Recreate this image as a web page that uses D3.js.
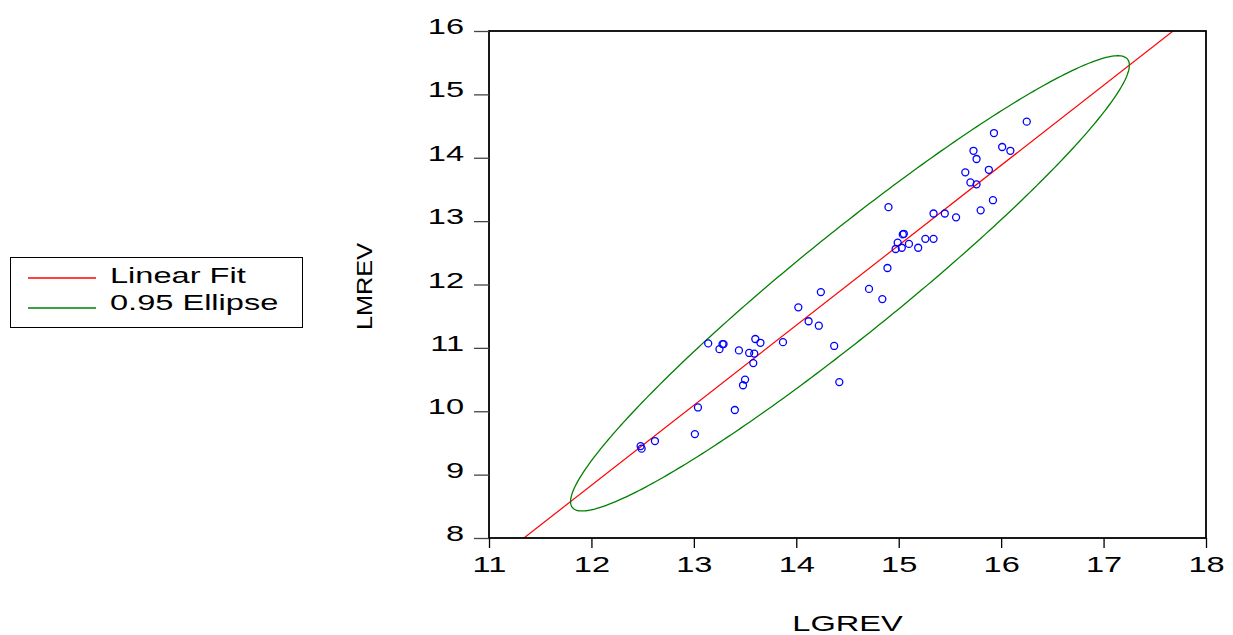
<!DOCTYPE html>
<html>
<head>
<meta charset="utf-8">
<script src="https://cdn.jsdelivr.net/npm/d3@7"></script>
<style>
  html, body { margin: 0; padding: 0; background: #fff; }
  svg { display: block; font-family: "Liberation Sans", Arial, sans-serif; }
</style>
</head>
<body>
<svg id="chart" width="1233" height="635"></svg>
<script>
// LGREV (x) vs LMREV (y) observations
const lgrev = [
  16.25, 15.93, 16.01, 16.09, 15.73, 15.76, 15.65, 15.88, 15.70, 15.76,
  15.92, 15.80, 14.90, 15.34, 15.45, 15.56, 15.05, 15.04, 14.99, 15.10,
  15.26, 15.34, 14.97, 15.03, 15.19,
  13.14, 13.28, 13.29, 13.25, 13.44, 13.60, 13.65, 13.54, 13.59, 13.58,
  13.87, 14.02, 14.24, 14.12, 14.22, 14.37, 14.42, 13.50, 13.48, 13.04,
  13.40, 13.01, 14.71, 14.84, 14.89,
  12.48, 12.49, 12.62
];
const lmrev = [
  14.57, 14.39, 14.17, 14.11, 14.11, 13.98, 13.77, 13.81, 13.61, 13.58,
  13.33, 13.17, 13.22, 13.12, 13.12, 13.06, 12.80, 12.79, 12.66, 12.64,
  12.72, 12.72, 12.56, 12.58, 12.58,
  11.07, 11.06, 11.06, 10.98, 10.96, 11.14, 11.08, 10.92, 10.91, 10.76,
  11.09, 11.64, 11.88, 11.42, 11.35, 11.03, 10.46, 10.50, 10.41, 10.06,
  10.02, 9.64, 11.93, 11.77, 12.26,
  9.45, 9.41, 9.53
];
const xTicks = [11, 12, 13, 14, 15, 16, 17, 18];
const yTicks = [8, 9, 10, 11, 12, 13, 14, 15, 16];
const legendItems = ["Linear Fit", "0.95 Ellipse"];
const ellipseLevel = 6.3; // scale of the 0.95 confidence region

const svg = d3.select("#chart");
const plotLeft = 489, plotRight = 1206, plotTop = 31, plotBottom = 538;
const stretch = 1.48; // wide glyph rendering of horizontal labels

const x = d3.scaleLinear().domain([11, 18]).range([plotLeft, plotRight]);
const y = d3.scaleLinear().domain([8, 16]).range([plotBottom, plotTop]);

// widen a text element horizontally while keeping its anchor
function widen(sel, factor) {
  sel.each(function () {
    const w = this.getComputedTextLength();
    d3.select(this).attr("textLength", w * factor).attr("lengthAdjust", "spacingAndGlyphs");
  });
}

// Sample statistics
const n = lgrev.length;
const mx = d3.mean(lgrev), my = d3.mean(lmrev);
let sxx = 0, syy = 0, sxy = 0;
for (let i = 0; i < n; i++) {
  const dx = lgrev[i] - mx, dy = lmrev[i] - my;
  sxx += dx * dx; syy += dy * dy; sxy += dx * dy;
}
sxx /= (n - 1); syy /= (n - 1); sxy /= (n - 1);
const slope = sxy / sxx;
const intercept = my - slope * mx;

svg.append("defs").append("clipPath").attr("id", "plot")
  .append("rect").attr("x", plotLeft).attr("y", plotTop)
  .attr("width", plotRight - plotLeft).attr("height", plotBottom - plotTop);

const g = svg.append("g").attr("clip-path", "url(#plot)");

// Linear fit line
g.append("line")
  .attr("x1", x(11)).attr("y1", y(intercept + slope * 11))
  .attr("x2", x(18)).attr("y2", y(intercept + slope * 18))
  .attr("stroke", "#ff0000").attr("stroke-width", 1.2);

// Confidence ellipse from the covariance matrix (Cholesky form)
const a11 = Math.sqrt(sxx);
const a21 = sxy / a11;
const a22 = Math.sqrt(syy - a21 * a21);
const k = Math.sqrt(ellipseLevel);
const angles = d3.range(0, 361).map(d => d * Math.PI / 180);
const ellPts = angles.map(t => {
  const u = k * Math.cos(t), v = k * Math.sin(t);
  return [mx + a11 * u, my + a21 * u + a22 * v];
});
g.append("path")
  .attr("d", d3.line().x(d => x(d[0])).y(d => y(d[1]))(ellPts))
  .attr("fill", "none").attr("stroke", "#008000").attr("stroke-width", 1.3);

// Scatter points
g.selectAll("circle.pt").data(lgrev.map((v, i) => [v, lmrev[i]]))
  .join("circle").attr("class", "pt")
  .attr("cx", d => x(d[0])).attr("cy", d => y(d[1])).attr("r", 3.5)
  .attr("fill", "none").attr("stroke", "#0000ff").attr("stroke-width", 1.3);

// Frame
svg.append("rect").attr("x", plotLeft).attr("y", plotTop)
  .attr("width", plotRight - plotLeft).attr("height", plotBottom - plotTop)
  .attr("fill", "none").attr("stroke", "#000").attr("stroke-width", 1.8);

// Axes
const yAxis = d3.axisLeft(y).tickValues(yTicks).tickSize(15).tickPadding(10).tickFormat(d3.format("d"));
const yg = svg.append("g").attr("transform", `translate(${plotLeft},0)`).call(yAxis);
yg.select(".domain").remove();
yg.selectAll("line").attr("stroke", "#444").attr("stroke-width", 1.3);
yg.selectAll("text").attr("font-size", 22).attr("fill", "#000").attr("dy", 2.5)
  .attr("font-family", "Liberation Sans, Arial, sans-serif").call(widen, stretch);

const xAxis = d3.axisBottom(x).tickValues(xTicks).tickSize(10).tickPadding(8).tickFormat(d3.format("d"));
const xg = svg.append("g").attr("transform", `translate(0,${plotBottom})`).call(xAxis);
xg.select(".domain").remove();
xg.selectAll("line").attr("stroke", "#000").attr("stroke-width", 1.3);
xg.selectAll("text").attr("font-size", 22).attr("fill", "#000")
  .attr("font-family", "Liberation Sans, Arial, sans-serif").call(widen, stretch);

// Axis titles
svg.append("text").attr("x", 847.5).attr("y", 631).attr("text-anchor", "middle")
  .attr("font-size", 22).text("LGREV").call(widen, stretch);
svg.append("text").attr("transform", "translate(372,286.5) rotate(-90)")
  .attr("text-anchor", "middle").attr("font-size", 22).text("LMREV").call(widen, 1.15);

// Legend
const lg = svg.append("g");
lg.append("rect").attr("x", 10.5).attr("y", 257.5).attr("width", 292).attr("height", 70)
  .attr("fill", "#fff").attr("stroke", "#000").attr("stroke-width", 1);
const legendColors = ["#ff0000", "#008000"];
const legendBase = [282.5, 310];
legendItems.forEach((t, i) => {
  const yy = 278 + i * 30;
  lg.append("line").attr("x1", 28).attr("x2", 96).attr("y1", yy).attr("y2", yy)
    .attr("stroke", legendColors[i]).attr("stroke-width", 1.3);
  lg.append("text").attr("x", 110).attr("y", legendBase[i]).attr("font-size", 22).text(t)
    .call(widen, stretch);
});
</script>
</body>
</html>
